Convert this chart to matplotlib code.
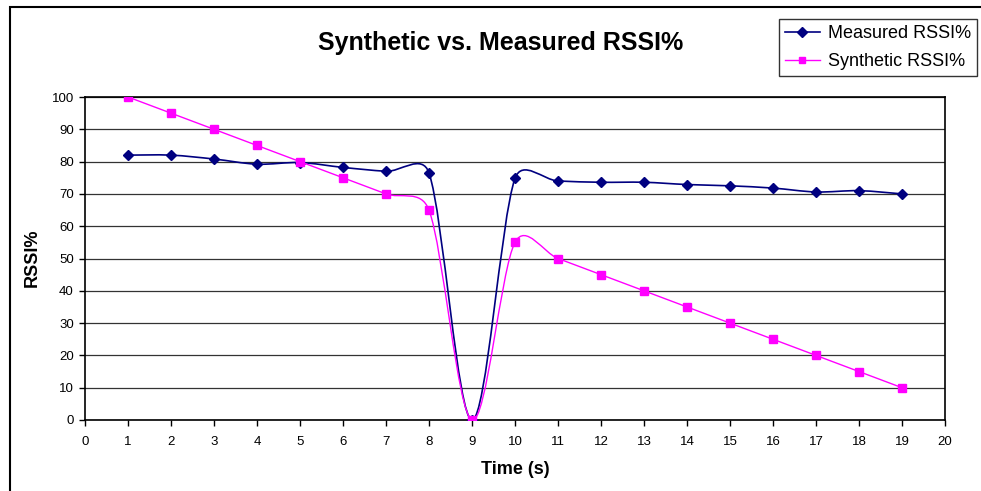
import matplotlib
matplotlib.use('Agg')
import matplotlib.pyplot as plt
from matplotlib.path import Path
from matplotlib.patches import PathPatch, Rectangle
from matplotlib.lines import Line2D
import numpy as np

plt.rcParams['font.family'] = ['Liberation Sans', 'DejaVu Sans']

time_s = [1, 2, 3, 4, 5, 6, 7, 8, 9, 10, 11, 12, 13, 14, 15, 16, 17, 18, 19]
measured = [82, 82, 80.8, 79.2, 79.7, 78.2, 77, 76.5, 0, 74.8, 74, 73.6, 73.6,
            72.9, 72.5, 71.8, 70.6, 71, 70]
synthetic = [100, 95, 90, 85, 80, 75, 70, 65, 0, 55, 50, 45, 40, 35, 30, 25,
             20, 15, 10]
x_ticks = list(range(0, 21))
y_ticks = list(range(0, 101, 10))

navy = '#000080'
magenta = '#FF00FF'


def smooth_path(ax, xs, ys):
    # Excel-like smoothed line: cubic bezier, control points from neighbours,
    # computed in display space so the distances are in pixels
    pts = ax.transData.transform(np.column_stack([xs, ys]))
    n = len(pts)
    verts = [pts[0]]
    codes = [Path.MOVETO]
    f = 1.0 / 6.0
    for i in range(n - 1):
        p0 = pts[max(i - 1, 0)]
        p1 = pts[i]
        p2 = pts[i + 1]
        p3 = pts[min(i + 2, n - 1)]
        d12 = np.hypot(*(p2 - p1))
        d02 = np.hypot(*(p2 - p0))
        d13 = np.hypot(*(p3 - p1))
        f1 = f if d02 == 0 else min(f, 0.5 * d12 / d02)
        f2 = f if d13 == 0 else min(f, 0.5 * d12 / d13)
        c1 = p1 + (p2 - p0) * f1
        c2 = p2 - (p3 - p1) * f2
        verts += [c1, c2, p2]
        codes += [Path.CURVE4] * 3
    verts = ax.transData.inverted().transform(np.array(verts))
    return Path(verts, codes)


fig = plt.figure(figsize=(9.81, 4.91), dpi=100)
ax = fig.add_axes([85 / 981, 1 - 420 / 491, 860 / 981, 323 / 491])
ax.set_xlim(0, 20)
ax.set_ylim(0, 100)
ax.set_xticks(x_ticks)
ax.set_yticks(y_ticks)
ax.tick_params(axis='both', direction='out', length=4, width=1, labelsize=9.5)
ax.tick_params(axis='x', pad=7.5)
ax.tick_params(axis='y', pad=4)
for sp in ax.spines.values():
    sp.set_linewidth(1.2)
ax.grid(axis='y', color='#333333', linewidth=0.9)
ax.set_axisbelow(True)

ax.add_patch(PathPatch(smooth_path(ax, time_s, measured), fill=False,
                       edgecolor=navy, linewidth=1.2, zorder=3))
ax.plot(time_s, measured, linestyle='none', marker='D', markersize=5.5,
        color=navy, zorder=4)
ax.add_patch(PathPatch(smooth_path(ax, time_s, synthetic), fill=False,
                       edgecolor=magenta, linewidth=1.0, zorder=5))
ax.plot(time_s, synthetic, linestyle='none', marker='s', markersize=5.2,
        color=magenta, zorder=6)

fig.text(501 / 981, 1 - 43 / 491, 'Synthetic vs. Measured RSSI%',
         ha='center', va='center', fontsize=18, fontweight='bold')
fig.text(515 / 981, 1 - 469 / 491, 'Time (s)', ha='center', va='center',
         fontsize=13, fontweight='bold')
fig.text(32 / 981, 1 - 258 / 491, 'RSSI%', ha='center', va='center',
         rotation=90, fontsize=13, fontweight='bold')

handles = [Line2D([], [], color=navy, lw=1.2, marker='D', markersize=5),
           Line2D([], [], color=magenta, lw=1.0, marker='s', markersize=5)]
leg = fig.legend(handles, ['Measured RSSI%', 'Synthetic RSSI%'],
                 loc='upper left', bbox_to_anchor=(779 / 981, 1 - 19 / 491),
                 bbox_transform=fig.transFigure, fontsize=13, frameon=True,
                 fancybox=False, borderaxespad=0, borderpad=0.35,
                 labelspacing=0.6, handlelength=1.9, handletextpad=0.45)
leg.get_frame().set_edgecolor('black')
leg.get_frame().set_linewidth(1.0)

fig.patches.append(Rectangle((10 / 981, -0.1), 1.2, 1 - 7 / 491 + 0.1,
                             transform=fig.transFigure, fill=False,
                             edgecolor='black', linewidth=1.5))

fig.savefig('out.png', dpi=100)
